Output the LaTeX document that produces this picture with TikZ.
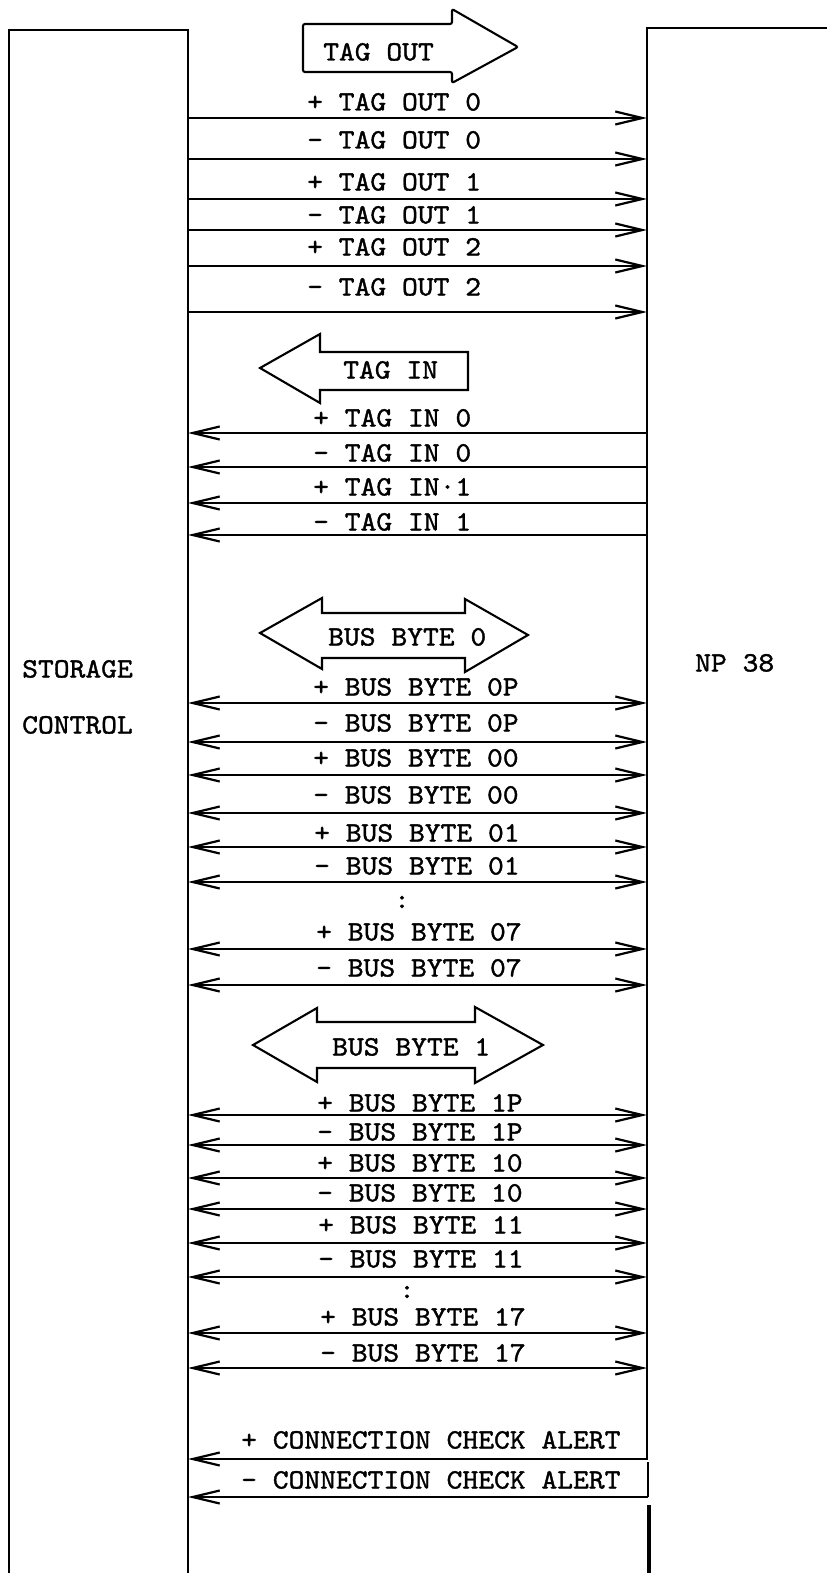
\documentclass[tikz,border=0pt]{standalone}
\usepackage{fontspec}
\usetikzlibrary{arrows.meta}
\newfontfamily\tw{lmmono10-regular.otf}[FakeStretch=1.075,FakeBold=1.3]
\begin{document}
\begin{tikzpicture}[x=1pt,y=-1pt,
  frame/.style={line width=2.8pt},
  wire/.style={line width=2.7pt},
  tipR/.style={wire,-{Straight Barb[length=27pt,width=13pt,line width=2.2pt]}},
  tipL/.style={wire,{Straight Barb[length=27pt,width=13pt,line width=2.2pt]}-},
  tipLR/.style={wire,{Straight Barb[length=27pt,width=13pt,line width=2.2pt]}-{Straight Barb[length=27pt,width=13pt,line width=2.2pt]}},
  sig/.style={inner sep=0pt,anchor=west,text height=17pt,text depth=0pt,font=\tw\fontsize{28}{30}\selectfont},
  dotsym/.style={inner sep=0pt,font=\tw\fontsize{28}{30}\selectfont},
  bigarrow/.style={line width=2.1pt,line join=miter},
]
\useasboundingbox (0,0) rectangle (827,1573);

% frames
\draw[frame] (9,1573) -- (9,30) -- (188,30) -- (188,1573);
\draw[frame] (827,28) -- (647,28) -- (647,1459);
\draw[frame] (648,1462) -- (648,1497);
\draw[line width=3.6pt] (649,1505) -- (649,1573);

% side labels
\node[sig] (sc1) at (22,669) {STORAGE};
\node[sig] (sc2) at (22,725) {CONTROL};
\node[sig] (np) at (695,663) {NP 38};

% TAG OUT
\draw[bigarrow,rounded corners=2pt] (452,24) -- (303,24) -- (303,72) -- (452,72) -- (452,83) -- (518,47) -- (452,9) -- cycle;
\node[sig] (tagout) at (323,52) {TAG OUT};
\foreach \ly/\wy/\t [count=\i] in {102/118/{+ TAG OUT 0},140/159/{– TAG OUT 0},182/199/{+ TAG OUT 1},215/230/{– TAG OUT 1},247/266/{+ TAG OUT 2},287/312/{– TAG OUT 2}}{
  \node[sig] (to\i) at (307,\ly) {\t};
  \coordinate (toa\i) at (188,\wy);
  \coordinate (tob\i) at (647,\wy);
  \draw[tipR] (toa\i) -- (tob\i);
}

% TAG IN
\draw[bigarrow] (320,352) -- (468,352) -- (468,390) -- (320,390) -- (320,403) -- (260,368) -- (320,334) -- cycle;
\node[sig] (tagin) at (343,370) {TAG IN};
\foreach \ly/\wy/\t [count=\i] in {418/433/{+ TAG IN 0},453/467/{– TAG IN 0},487/503/{+ TAG IN·1},522/535/{– TAG IN 1}}{
  \node[sig] (ti\i) at (313,\ly) {\t};
  \coordinate (tia\i) at (188,\wy);
  \coordinate (tib\i) at (647,\wy);
  \draw[tipL] (tia\i) -- (tib\i);
}

% BUS BYTE 0
\draw[bigarrow] (260,633) -- (322,598) -- (322,613) -- (465,613) -- (465,599) -- (528,635) -- (465,672) -- (465,658) -- (322,658) -- (322,669) -- cycle;
\node[sig] (bb0) at (328,637) {BUS BYTE 0};
\foreach \lx/\ly/\wy/\t [count=\i] in {313/687/703/{+ BUS BYTE 0P},313/723/742/{– BUS BYTE 0P},313/758/775/{+ BUS BYTE 00},313/795/813/{– BUS BYTE 00},314/833/847/{+ BUS BYTE 01},314/866/882/{– BUS BYTE 01},316/932/949/{+ BUS BYTE 07},316/968/985/{– BUS BYTE 07}}{
  \node[sig] (b0l\i) at (\lx,\ly) {\t};
  \coordinate (b0a\i) at (188,\wy);
  \coordinate (b0b\i) at (647,\wy);
  \draw[tipLR] (b0a\i) -- (b0b\i);
}
\node[dotsym] (dots0) at (402,902) {:};

% BUS BYTE 1
\draw[bigarrow] (253,1045) -- (317,1008) -- (317,1022) -- (475,1022) -- (475,1007) -- (543,1045) -- (475,1083) -- (475,1068) -- (317,1068) -- (317,1082) -- cycle;
\node[sig] (bb1) at (332,1047) {BUS BYTE 1};
\foreach \lx/\ly/\wy/\t [count=\i] in {317/1103/1115/{+ BUS BYTE 1P},317/1132/1145/{– BUS BYTE 1P},317/1163/1178/{+ BUS BYTE 10},317/1193/1209/{– BUS BYTE 10},318/1225/1243/{+ BUS BYTE 11},318/1259/1277/{– BUS BYTE 11},320/1317/1333/{+ BUS BYTE 17},320/1353/1368/{– BUS BYTE 17}}{
  \node[sig] (b1l\i) at (\lx,\ly) {\t};
  \coordinate (b1a\i) at (188,\wy);
  \coordinate (b1b\i) at (647,\wy);
  \draw[tipLR] (b1a\i) -- (b1b\i);
}
\node[dotsym] (dots1) at (407,1292) {:};

% CONNECTION CHECK ALERT
\foreach \ly/\wy/\t [count=\i] in {1440/1459/{+ CONNECTION CHECK ALERT},1480/1497/{– CONNECTION CHECK ALERT}}{
  \node[sig] (cca\i) at (241,\ly) {\t};
  \coordinate (ccaa\i) at (188,\wy);
  \coordinate (ccab\i) at (648,\wy);
  \draw[tipL] (ccaa\i) -- (ccab\i);
}
\end{tikzpicture}
\end{document}
